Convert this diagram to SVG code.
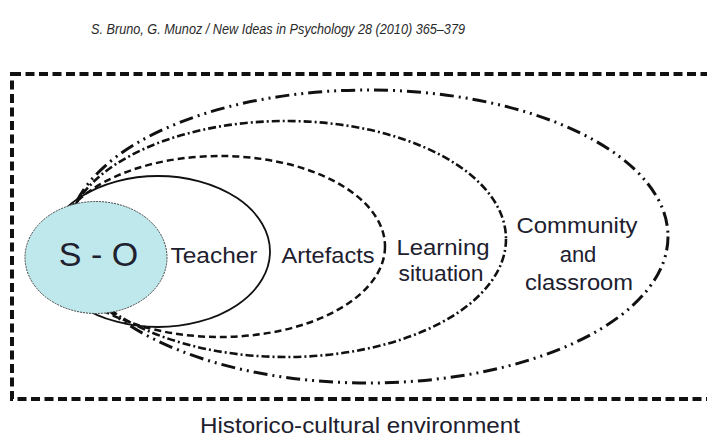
<svg xmlns="http://www.w3.org/2000/svg" width="707" height="441" viewBox="0 0 707 441">
<style>
  .lbl { font-family: "Liberation Sans", Arial, sans-serif; font-size: 22px; fill: #20202e; text-anchor: middle; }
  .big { font-size: 34px; }
  .ring { fill: none; stroke: #111; }
  .frame { fill: none; stroke: #111; stroke-width: 4; stroke-dasharray: 9 4.5; }
</style>
<rect width="707" height="441" fill="#ffffff"/>
<text x="278" y="34" font-family="'Liberation Sans', Arial, sans-serif" font-style="italic" font-size="14" fill="#2a2a2a" text-anchor="middle" textLength="374" lengthAdjust="spacingAndGlyphs">S. Bruno, G. Munoz / New Ideas in Psychology 28 (2010) 365–379</text>
<g id="environment">
  <rect class="frame" x="12" y="74" width="702" height="325"/>
  <text class="lbl" x="360" y="433" textLength="320" lengthAdjust="spacingAndGlyphs">Historico-cultural environment</text>
</g>
<g id="community">
  <ellipse class="ring" cx="368" cy="236.5" rx="300" ry="146.5" stroke-width="3" stroke-dasharray="14 5 2 5 2 5"/>
  <text class="lbl" x="577" y="233" textLength="121" lengthAdjust="spacingAndGlyphs">Community</text>
  <text class="lbl" x="578" y="262">and</text>
  <text class="lbl" x="579" y="290" textLength="108" lengthAdjust="spacingAndGlyphs">classroom</text>
</g>
<g id="learning-situation">
  <ellipse class="ring" cx="286" cy="239" rx="220" ry="118" stroke-width="2.6" stroke-dasharray="8 3 2 3"/>
  <text class="lbl" x="443" y="255" textLength="93" lengthAdjust="spacingAndGlyphs">Learning</text>
  <text class="lbl" x="441" y="281" textLength="85" lengthAdjust="spacingAndGlyphs">situation</text>
</g>
<g id="artefacts">
  <ellipse class="ring" cx="220" cy="246.5" rx="165" ry="90.5" stroke-width="2.5" stroke-dasharray="7 4"/>
  <text class="lbl" x="328" y="263" textLength="93" lengthAdjust="spacingAndGlyphs">Artefacts</text>
</g>
<g id="teacher">
  <ellipse class="ring" cx="158" cy="251.5" rx="112" ry="75.5" stroke-width="1.8"/>
  <text class="lbl" x="214" y="263" textLength="87" lengthAdjust="spacingAndGlyphs">Teacher</text>
</g>
<g id="s-o">
  <ellipse cx="96" cy="257.5" rx="71" ry="56" fill="#bfe8ec" stroke="#444" stroke-width="1" stroke-dasharray="2 1"/>
  <text class="lbl big" x="98.5" y="266">S - O</text>
</g>
<g id="connectors"/>
</svg>
